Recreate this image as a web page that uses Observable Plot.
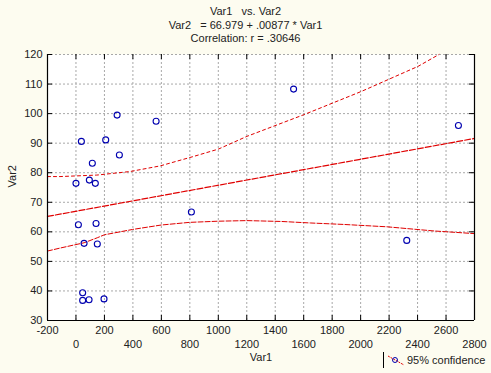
<!DOCTYPE html>
<html>
<head>
<meta charset="utf-8">
<script src="https://cdn.jsdelivr.net/npm/d3@7"></script>
<script src="https://cdn.jsdelivr.net/npm/@observablehq/plot@0.6"></script>
<style>
  html, body { margin: 0; padding: 0; background: #fdfcf0; }
  #wrap { position: relative; width: 491px; height: 373px; background: #fdfcf0; overflow: hidden;
          font-family: "Liberation Sans", Arial, sans-serif; color: #222; }
  #title { position: absolute; left: 0; top: 5px; width: 491px; text-align: center; font-size: 11px; line-height: 13.5px; }
  #legend { position: absolute; left: 383px; top: 352px; height: 16px; border-left: 1px solid #000;
            font-size: 11px; line-height: 16px; padding-left: 3px; display: flex; align-items: center; }
  #legend svg { margin-right: 2px; }
</style>
</head>
<body>
<div id="wrap">
  <div id="chart"></div>
  <div id="title">Var1 &nbsp;&nbsp;vs. Var2<br>Var2 &nbsp;&nbsp;= 66.979 + .00877 * Var1<br>Correlation: r = .30646</div>
  <div id="legend"><svg width="18" height="12"><line x1="1" y1="2" x2="17" y2="11" stroke="#e00000" stroke-dasharray="2,1"/><circle cx="8" cy="6" r="2.5" fill="none" stroke="#0000b0"/></svg>95% confidence</div>
</div>
<script>
const xDomain = [-200, 2800];
const yDomain = [30, 120];
const xTicks = [-200, 0, 200, 400, 600, 800, 1000, 1200, 1400, 1600, 1800, 2000, 2200, 2400, 2600, 2800];
const xTicksRow1 = [-200, 200, 600, 1000, 1400, 1800, 2200, 2600];
const xTicksRow2 = [0, 400, 800, 1200, 1600, 2000, 2400, 2800];
const yTicks = [30, 40, 50, 60, 70, 80, 90, 100, 110, 120];

const var1 = [289, 563, 38, 209, 305, 115, 0, 94, 136, 811, 17, 141, 57, 150, 47, 47, 92, 197, 1529, 2687, 2324];
const var2 = [99.5, 97.4, 90.6, 91.1, 86, 83.2, 76.4, 77.5, 76.4, 66.7, 62.4, 62.8, 56.1, 55.9, 39.4, 36.8, 37, 37.3, 108.3, 96, 57.1];

const regVar1 = [-200, 2800];
const regVar2 = [65.2, 91.6];

const upVar1 = [-200, -112, 146, 380, 591, 826, 1001, 1201, 1599, 2005, 2404, 2550];
const upVar2 = [78.7, 78.7, 79.2, 80.4, 82.3, 85.5, 88, 92.3, 99.6, 107.5, 116, 120];

const loVar1 = [-200, -112, 57, 150, 200, 397, 598, 797, 1001, 1201, 1447, 1646, 1881, 2186, 2514, 2800];
const loVar2 = [53.5, 54.5, 56.3, 58, 59, 60.8, 62.3, 63.2, 63.6, 63.8, 63.5, 63, 62.5, 61.7, 60.3, 59.4];

const pts = var1.map((v, i) => ({x: v, y: var2[i]}));
const reg = regVar1.map((v, i) => ({x: v, y: regVar2[i]}));
const up = upVar1.map((v, i) => ({x: v, y: upVar2[i]}));
const lo = loVar1.map((v, i) => ({x: v, y: loVar2[i]}));

const red = "#e00000";
const fmt = d => String(d);
const chart = Plot.plot({
  width: 491,
  height: 373,
  marginLeft: 47,
  marginRight: 17,
  marginTop: 54,
  marginBottom: 53,
  style: {background: "transparent", fontFamily: "Liberation Sans, Arial, sans-serif", fontSize: "11px", color: "#222"},
  x: {domain: xDomain, axis: null},
  y: {domain: yDomain, axis: null},
  marks: [
    Plot.frame({fill: "white", stroke: null}),
    Plot.gridX(xTicks, {stroke: "#a8a8a8", strokeOpacity: 1, strokeDasharray: "2,2"}),
    Plot.gridY(yTicks, {stroke: "#a8a8a8", strokeOpacity: 1, strokeDasharray: "2,2"}),
    Plot.line(up, {x: "x", y: "y", stroke: red, strokeWidth: 1, strokeDasharray: "3,3"}),
    Plot.line(lo, {x: "x", y: "y", stroke: red, strokeWidth: 1, strokeDasharray: "5,2"}),
    Plot.line(reg, {x: "x", y: "y", stroke: red, strokeWidth: 1.2, strokeDasharray: "6,2"}),
    Plot.dot(pts, {x: "x", y: "y", r: 3, stroke: "#0000b0", strokeWidth: 1.1, fill: "none"}),
    Plot.ruleX(xDomain, {stroke: "black", strokeWidth: 1.2}),
    Plot.ruleY([yDomain[0]], {stroke: "black", strokeWidth: 1.2}),
    Plot.ruleX(xTicks, {stroke: "black", insetTop: 261}),
    Plot.ruleX(xTicks, {stroke: "black", insetBottom: 261}),
    Plot.ruleY(yTicks, {stroke: "black", insetRight: 422}),
    Plot.ruleY(yTicks, {stroke: "black", insetLeft: 422}),
    Plot.axisX(xTicksRow1, {tickSize: 0, tickPadding: 6, label: null, fontSize: 11, tickFormat: fmt}),
    Plot.axisX(xTicksRow2, {tickSize: 0, tickPadding: 20, label: null, fontSize: 11, tickFormat: fmt}),
    Plot.axisY(yTicks, {tickSize: 0, tickPadding: 5, label: null, fontSize: 11, tickFormat: fmt}),
    Plot.text(["Var1"], {frameAnchor: "bottom", dy: 40, fontSize: 11}),
    Plot.text(["Var2"], {frameAnchor: "left", dx: -35, rotate: -90, fontSize: 11})
  ]
});
document.getElementById("chart").appendChild(chart);
</script>
</body>
</html>
